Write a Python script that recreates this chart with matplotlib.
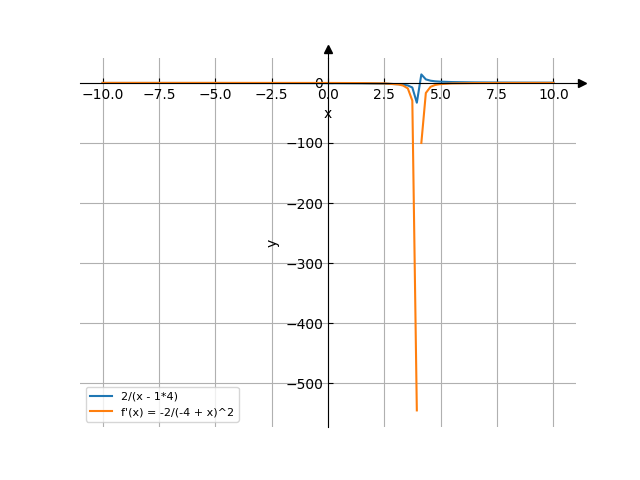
import matplotlib
matplotlib.use("Agg")
import matplotlib.pyplot as plt

nan = float("nan")

# sample points
x = [-10.0, -7.5, -5.0, -2.5, 0.0, 1.5, 2.5, 3.13, 3.33, 3.54, 3.74, 3.94,
     4.14, 4.34, 4.55, 4.75, 4.95, 5.5, 6.5, 7.5, 8.5, 10.0]
f = [-0.14, -0.17, -0.22, -0.31, -0.5, -0.8, -1.33, -2.3, -3.0, -4.3, -7.7, -33.0,
     14.1, 5.8, 3.6, 2.6, 2.1, 1.33, 0.8, 0.57, 0.44, 0.33]
# the derivative line breaks at the pole
x_d = [-10.0, -7.5, -5.0, -2.5, 0.0, 1.5, 2.5, 3.13, 3.33, 3.54, 3.74, 3.94,
       4.04, 4.14, 4.34, 4.55, 4.75, 4.95, 5.5, 6.5, 7.5, 8.5, 10.0]
df = [-0.01, -0.02, -0.02, -0.05, -0.13, -0.32, -0.89, -2.6, -4.5, -9.2, -29.5, -545.0,
      nan, -100.0, -16.8, -6.5, -3.5, -2.2, -0.89, -0.32, -0.16, -0.1, -0.06]

fig, ax = plt.subplots(figsize=(6.4, 4.8), dpi=100)
ax.plot(x, f, label="2/(x - 1*4)")
ax.plot(x_d, df, label="f'(x) = -2/(-4 + x)^2")

ax.spines["left"].set_position("zero")
ax.spines["bottom"].set_position("zero")
ax.spines["right"].set_color("none")
ax.spines["top"].set_color("none")
ax.tick_params(direction="in")
# axis arrows past the ends of the spines
ax.plot([1, 1.013], [0, 0], "k-", lw=0.8, transform=ax.get_yaxis_transform(), clip_on=False)
ax.plot(1.013, 0, ">k", transform=ax.get_yaxis_transform(), clip_on=False)
ax.plot([0, 0], [1, 1.022], "k-", lw=0.8, transform=ax.get_xaxis_transform(), clip_on=False)
ax.plot(0, 1.022, "^k", transform=ax.get_xaxis_transform(), clip_on=False)
ax.grid(True)
ax.set_xlabel("x")
ax.set_ylabel("y")
ax.legend(loc="lower left", fontsize=8)

fig.savefig("out.png")
